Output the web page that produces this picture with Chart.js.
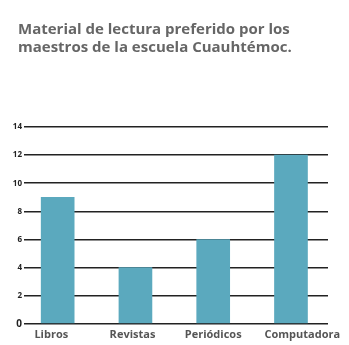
<!DOCTYPE html>
<html>
<head>
<meta charset="utf-8">
<script src="https://cdn.jsdelivr.net/npm/chart.js@4"></script>
<style>
  html, body { margin: 0; padding: 0; background: #fff; }
  #wrap { position: relative; width: 349px; height: 345px; }
  #title { position: absolute; left: 18px; top: 19px; margin: 0;
    font-family: "Open Sans", sans-serif; font-weight: 700; font-size: 15px;
    line-height: 18px; color: #666; letter-spacing: 0; white-space: nowrap; }
  canvas { position: absolute; left: 0; top: 0; }
</style>
</head>
<body>
<div id="wrap">
  <canvas id="c" width="349" height="345"></canvas>
  <div id="title">Material de lectura preferido por los<br>maestros de la escuela Cuauhtémoc.</div>
</div>
<script>
const categories = ["Libros", "Revistas", "Periódicos", "Computadora"];
const values = [9, 4, 6, 12];
const yTicks = [0, 2, 4, 6, 8, 10, 12, 14];

// label anchor positions along the index axis (visual offsets of the labels)
const labelAnchors = [-0.082, 0.962, 2.0, 3.145];

new Chart(document.getElementById('c'), {
  type: 'bar',
  data: {
    datasets: [{
      data: values.map((v, i) => ({ x: i, y: v })),
      backgroundColor: '#5BA9BE',
      borderWidth: 0,
      barThickness: 33
    }]
  },
  options: {
    responsive: false,
    animation: false,
    layout: { padding: { top: 127, right: 21, bottom: 0, left: 0 } },
    plugins: { legend: { display: false }, title: { display: false }, tooltip: { enabled: false } },
    scales: {
      x: {
        type: 'linear',
        offset: false,
        bounds: 'data',
        min: -0.433,
        max: 3.476,
        grid: { display: false, drawTicks: false },
        border: { display: false },
        afterBuildTicks: s => { s.ticks = labelAnchors.map(v => ({ value: v })); },
        ticks: {
          autoSkip: false, maxRotation: 0, padding: 4,
          color: '#555',
          font: { family: 'Open Sans', weight: 'bold', size: 11 },
          callback: (v, i) => categories[i]
        }
      },
      y: {
        min: 0, max: 14,
        afterBuildTicks: s => { s.ticks = yTicks.map(v => ({ value: v })); },
        afterFit: s => { s.width = 24; },
        grid: { color: '#222', lineWidth: 1.6, drawTicks: false },
        border: { display: false },
        ticks: {
          padding: 2,
          color: '#222',
          font: ctx => ({ family: 'Open Sans', weight: 'bold', size: (ctx.tick && ctx.tick.value === 0) ? 10 : 8 })
        }
      }
    }
  }
});
</script>
</body>
</html>
